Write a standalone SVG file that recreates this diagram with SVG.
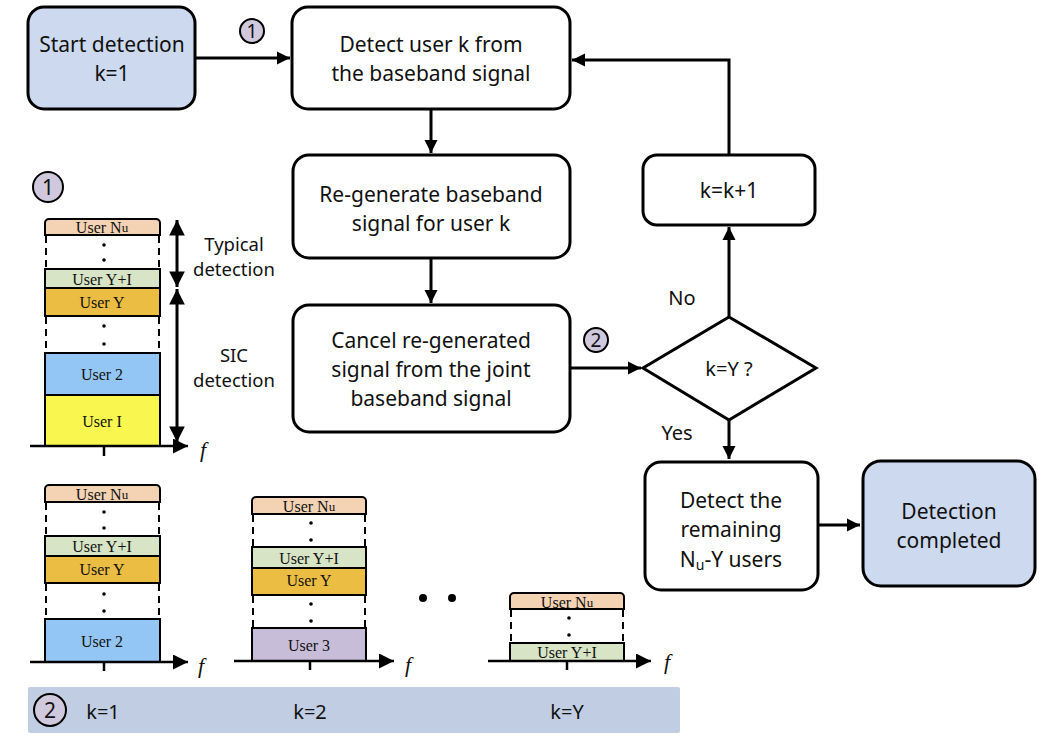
<svg xmlns="http://www.w3.org/2000/svg" width="1060" height="751" viewBox="0 0 1060 751">
<defs>
<marker id="ah" viewBox="0 0 10 10" refX="10" refY="5" markerWidth="4.4" markerHeight="4.4" orient="auto-start-reverse" markerUnits="strokeWidth"><path d="M0,0 L10,5 L0,10 z" fill="#000"/></marker>
<marker id="ahb" viewBox="0 0 10 10" refX="10" refY="5" markerWidth="5.2" markerHeight="5.4" orient="auto-start-reverse" markerUnits="strokeWidth"><path d="M0,0 L10,5 L0,10 z" fill="#000"/></marker>
<marker id="ahs" viewBox="0 0 10 10" refX="10" refY="5" markerWidth="6" markerHeight="6" orient="auto-start-reverse" markerUnits="strokeWidth"><path d="M0,0 L10,5 L0,10 z" fill="#000"/></marker>
</defs>
<style>
.box{fill:#fff;stroke:#000;stroke-width:3}
.blue{fill:#cdd9ee}
.t{font-family:"Noto Sans","Open Sans",sans-serif;font-size:21px;fill:#111;text-anchor:middle;dominant-baseline:central}
.s{font-family:"Noto Sans","Open Sans",sans-serif;font-size:18.5px;fill:#111;text-anchor:middle;dominant-baseline:central}
.u{font-family:"Liberation Serif","DejaVu Serif",serif;font-size:16px;fill:#111;text-anchor:middle;dominant-baseline:central}
.f{font-family:"Liberation Serif",serif;font-style:italic;font-size:22px;fill:#111;text-anchor:middle;dominant-baseline:central}
.ln{stroke:#000;stroke-width:3;fill:none}
.ax{stroke:#000;stroke-width:2.5;fill:none}
.dash{stroke:#000;stroke-width:2;stroke-dasharray:7,5;fill:none}
.dot{fill:#000}
.circ{fill:#d0c8dc;stroke:#000;stroke-width:2}
</style>
<rect width="1060" height="751" fill="#fff"/>

<g id="connectors">
<line class="ln" x1="195" y1="58" x2="290" y2="58" marker-end="url(#ah)"/>
<line class="ln" x1="431" y1="109" x2="431" y2="153" marker-end="url(#ah)"/>
<line class="ln" x1="431" y1="258" x2="431" y2="303" marker-end="url(#ah)"/>
<line class="ln" x1="570" y1="368" x2="641" y2="368" marker-end="url(#ah)"/>
<line class="ln" x1="729" y1="317" x2="729" y2="227" marker-end="url(#ah)"/>
<polyline class="ln" points="729,155 729,60 572,60" marker-end="url(#ah)"/>
<line class="ln" x1="729" y1="420" x2="729" y2="459" marker-end="url(#ah)"/>
<line class="ln" x1="818" y1="525" x2="860" y2="525" marker-end="url(#ah)"/>
<text class="t" x="682" y="297" style="font-size:20px">No</text>
<text class="t" x="677" y="432" style="font-size:20px">Yes</text>
</g>

<g id="start">
<rect class="box blue" x="28" y="7" width="167" height="102" rx="16"/>
<text class="t" x="112" y="44">Start detection</text>
<text class="t" x="112" y="73">k=1</text>
</g>
<g id="marker1">
<circle class="circ" cx="252" cy="31" r="12"/>
<text class="t" x="252" y="31" style="font-size:19px">1</text>
</g>
<g id="detect">
<rect class="box" x="292" y="7" width="278" height="102" rx="16"/>
<text class="t" x="431" y="44">Detect user k from</text>
<text class="t" x="431" y="73">the baseband signal</text>
</g>
<g id="regen">
<rect class="box" x="293" y="155" width="277" height="103" rx="16"/>
<text class="t" x="431" y="194">Re-generate baseband</text>
<text class="t" x="431" y="223">signal for user k</text>
</g>
<g id="cancel">
<rect class="box" x="293" y="305" width="277" height="127" rx="16"/>
<text class="t" x="431" y="340">Cancel re-generated</text>
<text class="t" x="431" y="369">signal from the joint</text>
<text class="t" x="431" y="398">baseband signal</text>
</g>
<g id="marker2">
<circle class="circ" cx="596" cy="340" r="12"/>
<text class="t" x="596" y="340" style="font-size:19px">2</text>
</g>
<g id="decision">
<polygon class="box" points="729,317 816,368 729,420 643,368"/>
<text class="t" x="729" y="368" style="font-size:20px">k=Y ?</text>
</g>
<g id="inc">
<rect class="box" x="643" y="155" width="172" height="70" rx="14"/>
<text class="t" x="729" y="190">k=k+1</text>
</g>
<g id="remaining">
<rect class="box" x="645" y="462" width="173" height="128" rx="16"/>
<text class="t" x="731" y="500">Detect the</text>
<text class="t" x="731" y="529">remaining</text>
<text class="t" x="731" y="559">N<tspan style="font-size:14px" dy="5">u</tspan><tspan dy="-5">-Y users</tspan></text>
</g>
<g id="completed">
<rect class="box blue" x="863" y="461" width="172" height="125" rx="18"/>
<text class="t" x="949" y="511">Detection</text>
<text class="t" x="949" y="540">completed</text>
</g>

<g id="stack-typical">
<circle class="circ" cx="48" cy="187" r="15"/>
<text class="t" x="48" y="187">1</text>
<path d="M45,235 V223 a4,4 0 0 1 4,-4 H156 a4,4 0 0 1 4,4 V235 Z" fill="#f3d3b3" stroke="#000" stroke-width="2"/>
<text class="u" x="102" y="227">User N<tspan style="font-size:13px">u</tspan></text>
<line class="dash" x1="46" y1="236" x2="46" y2="268"/><line class="dash" x1="159" y1="236" x2="159" y2="268"/>
<circle class="dot" cx="104" cy="245" r="1.8"/><circle class="dot" cx="104" cy="260" r="1.8"/>
<rect x="45" y="269" width="115" height="19" fill="#d8e4c6" stroke="#000" stroke-width="2"/>
<text class="u" x="102" y="279">User Y+I</text>
<rect x="45" y="288" width="115" height="28" fill="#ebbd43" stroke="#000" stroke-width="2"/>
<text class="u" x="102" y="302">User Y</text>
<line class="dash" x1="46" y1="317" x2="46" y2="352"/><line class="dash" x1="159" y1="317" x2="159" y2="352"/>
<circle class="dot" cx="104" cy="326" r="1.8"/><circle class="dot" cx="104" cy="344" r="1.8"/>
<rect x="45" y="353" width="115" height="42" fill="#93c5f5" stroke="#000" stroke-width="2"/>
<text class="u" x="102" y="374">User 2</text>
<rect x="45" y="395" width="115" height="51" fill="#f9f74f" stroke="#000" stroke-width="2"/>
<text class="u" x="102" y="421">User I</text>
<line class="ax" x1="30" y1="446" x2="188" y2="446" marker-end="url(#ahs)"/>
<line class="ax" x1="104" y1="446" x2="104" y2="456"/>
<text class="f" x="203" y="449">f</text>
<line class="ln" x1="177" y1="220" x2="177" y2="287" marker-start="url(#ahb)" marker-end="url(#ahb)"/>
<line class="ln" x1="177" y1="289" x2="177" y2="442" marker-start="url(#ahb)" marker-end="url(#ahb)"/>
<text class="s" x="234" y="243">Typical</text>
<text class="s" x="234" y="268">detection</text>
<text class="s" x="234" y="354">SIC</text>
<text class="s" x="234" y="379">detection</text>
</g>

<g id="stack-k1">
<path d="M45,502 V489 a4,4 0 0 1 4,-4 H156 a4,4 0 0 1 4,4 V502 Z" fill="#f3d3b3" stroke="#000" stroke-width="2"/>
<text class="u" x="102" y="494">User N<tspan style="font-size:13px">u</tspan></text>
<line class="dash" x1="46" y1="503" x2="46" y2="535"/><line class="dash" x1="159" y1="503" x2="159" y2="535"/>
<circle class="dot" cx="104" cy="512" r="1.8"/><circle class="dot" cx="104" cy="528" r="1.8"/>
<rect x="45" y="536" width="115" height="20" fill="#d8e4c6" stroke="#000" stroke-width="2"/>
<text class="u" x="102" y="546">User Y+I</text>
<rect x="45" y="556" width="115" height="27" fill="#ebbd43" stroke="#000" stroke-width="2"/>
<text class="u" x="102" y="569">User Y</text>
<line class="dash" x1="46" y1="584" x2="46" y2="618"/><line class="dash" x1="159" y1="584" x2="159" y2="618"/>
<circle class="dot" cx="104" cy="594" r="1.8"/><circle class="dot" cx="104" cy="611" r="1.8"/>
<rect x="45" y="619" width="115" height="43" fill="#93c5f5" stroke="#000" stroke-width="2"/>
<text class="u" x="102" y="641">User 2</text>
<line class="ax" x1="30" y1="662" x2="188" y2="662" marker-end="url(#ahs)"/>
<line class="ax" x1="104" y1="662" x2="104" y2="671"/>
<text class="f" x="201" y="665">f</text>
</g>

<g id="stack-k2">
<path d="M252,514 V501 a4,4 0 0 1 4,-4 H362 a4,4 0 0 1 4,4 V514 Z" fill="#f3d3b3" stroke="#000" stroke-width="2"/>
<text class="u" x="309" y="506">User N<tspan style="font-size:13px">u</tspan></text>
<line class="dash" x1="253" y1="515" x2="253" y2="546"/><line class="dash" x1="365" y1="515" x2="365" y2="546"/>
<circle class="dot" cx="311" cy="523" r="1.8"/><circle class="dot" cx="311" cy="540" r="1.8"/>
<rect x="252" y="547" width="114" height="21" fill="#d8e4c6" stroke="#000" stroke-width="2"/>
<text class="u" x="309" y="558">User Y+I</text>
<rect x="252" y="568" width="114" height="27" fill="#ebbd43" stroke="#000" stroke-width="2"/>
<text class="u" x="309" y="580">User Y</text>
<line class="dash" x1="253" y1="596" x2="253" y2="627"/><line class="dash" x1="365" y1="596" x2="365" y2="627"/>
<circle class="dot" cx="311" cy="604" r="1.8"/><circle class="dot" cx="311" cy="621" r="1.8"/>
<rect x="252" y="628" width="114" height="33" fill="#c8bdd8" stroke="#000" stroke-width="2"/>
<text class="u" x="309" y="645">User 3</text>
<line class="ax" x1="234" y1="661" x2="394" y2="661" marker-end="url(#ahs)"/>
<line class="ax" x1="310" y1="661" x2="310" y2="670"/>
<text class="f" x="408" y="664">f</text>
</g>

<g id="ellipsis">
<circle class="dot" cx="423" cy="598" r="4"/>
<circle class="dot" cx="452" cy="598" r="4"/>
</g>

<g id="stack-kY">
<path d="M510,609 V597 a4,4 0 0 1 4,-4 H620 a4,4 0 0 1 4,4 V609 Z" fill="#f3d3b3" stroke="#000" stroke-width="2"/>
<text class="u" x="567" y="602">User N<tspan style="font-size:13px">u</tspan></text>
<line class="dash" x1="511" y1="610" x2="511" y2="642"/><line class="dash" x1="623" y1="610" x2="623" y2="642"/>
<circle class="dot" cx="569" cy="618" r="1.8"/><circle class="dot" cx="569" cy="635" r="1.8"/>
<rect x="510" y="643" width="114" height="18" fill="#d8e4c6" stroke="#000" stroke-width="2"/>
<text class="u" x="567" y="652">User Y+I</text>
<line class="ax" x1="488" y1="661" x2="651" y2="661" marker-end="url(#ahs)"/>
<line class="ax" x1="567" y1="661" x2="567" y2="670"/>
<text class="f" x="667" y="661">f</text>
</g>

<g id="band">
<rect x="28" y="687" width="652" height="46" rx="2" fill="#c0cde2"/>
<circle class="circ" cx="50" cy="710" r="16"/>
<text class="t" x="50" y="710">2</text>
<text class="t" x="103" y="711" style="font-size:20px">k=1</text>
<text class="t" x="310" y="711" style="font-size:20px">k=2</text>
<text class="t" x="567" y="711" style="font-size:20px">k=Y</text>
</g>
</svg>
